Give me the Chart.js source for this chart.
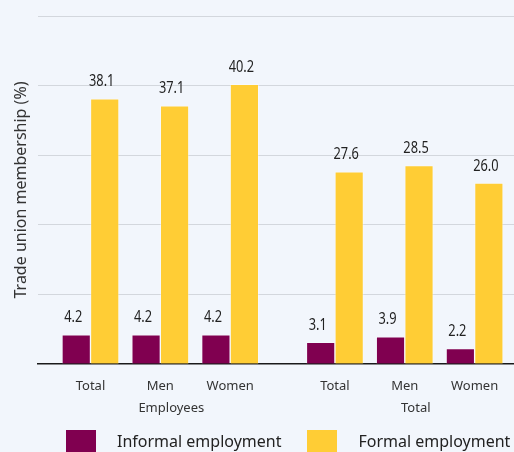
<!DOCTYPE html>
<html>
<head>
<meta charset="utf-8">
<script src="https://cdn.jsdelivr.net/npm/chart.js@4.4.0/dist/chart.umd.min.js"></script>
<style>
  html, body { margin: 0; padding: 0; background: #f2f6fc; overflow: hidden; width: 514px; height: 452px; }
  #wrap { position: relative; width: 527px; height: 452px; }
  #c { position: absolute; left: 0; top: 0; }
  .legend { position: absolute; left: 66px; top: 430px; display: flex; align-items: flex-start;
            font: 16px "Noto Sans", sans-serif; color: #222; white-space: nowrap; }
  .legend .item { display: flex; align-items: flex-start; margin-right: 26px; }
  .legend .sw { width: 30px; height: 30px; margin-right: 21px; }
  .legend .txt { line-height: 20px; padding-top: 1px; }
</style>
</head>
<body>
<div id="wrap">
  <canvas id="c" width="527" height="440"></canvas>
  <div class="legend" id="legend"></div>
</div>
<script>
// Trade union membership by employment type, sex and group
const categories = ['Total', 'Men', 'Women'];
const groups = ['Employees', 'Total'];
const informal = [4.2, 4.2, 4.2, 3.1, 3.9, 2.2];
const formal = [38.1, 37.1, 40.2, 27.6, 28.5, 26.0];
const yTicks = [0, 10, 20, 30, 40, 50];
const seriesNames = ['Informal employment', 'Formal employment'];
const seriesColors = ['#800050', '#ffcd35'];
const axisTitle = 'Trade union membership (%)';

// Each group: one spacer slot, then one bar slot + one spacer slot per category.
const slotsPerGroup = 1 + 2 * categories.length;
const slotCount = slotsPerGroup * groups.length;
const slotOf = (g, c) => g * slotsPerGroup + 1 + 2 * c;

const tickLabels = new Array(slotCount).fill('');
const toSlots = values => {
  const out = new Array(slotCount).fill(null);
  groups.forEach((g, gi) => categories.forEach((c, ci) => {
    out[slotOf(gi, ci)] = values[gi * categories.length + ci];
  }));
  return out;
};
groups.forEach((g, gi) => {
  categories.forEach((c, ci) => { tickLabels[slotOf(gi, ci)] = c; });
});

const seriesValues = [informal, formal];
const datasets = seriesNames.map((name, i) => ({
  label: name,
  data: toSlots(seriesValues[i]),
  backgroundColor: seriesColors[i],
  borderColor: 'rgba(255,255,255,0.3)',
  borderWidth: 1,
  barThickness: 28.5
}));

// Value labels above each bar, in a slightly condensed face
const valueLabels = {
  id: 'valueLabels',
  afterDatasetsDraw(chart) {
    const ctx = chart.ctx;
    ctx.save();
    ctx.font = '16px "Noto Sans"';
    ctx.fillStyle = '#222';
    ctx.textAlign = 'center';
    ctx.textBaseline = 'alphabetic';
    chart.data.datasets.forEach((ds, di) => {
      chart.getDatasetMeta(di).data.forEach((el, j) => {
        const v = ds.data[j];
        if (v === null || v === undefined) return;
        ctx.save();
        ctx.translate(el.x - 3, el.y - 12.5);
        ctx.scale(0.8, 1);
        ctx.fillText(v.toFixed(1), 0, 0);
        ctx.restore();
      });
    });
    ctx.restore();
  }
};

// Group names on a second row under the category labels
const groupRow = {
  id: 'groupRow',
  afterDraw(chart) {
    const ctx = chart.ctx;
    const xs = chart.scales.x;
    const mid = Math.floor(categories.length / 2);
    ctx.save();
    ctx.font = '13px "Noto Sans"';
    ctx.fillStyle = '#333';
    ctx.textAlign = 'center';
    ctx.textBaseline = 'middle';
    groups.forEach((g, gi) => {
      const px = xs.getPixelForValue(slotOf(gi, mid));
      ctx.fillText(g, px + 11, xs.bottom + 0.5);
    });
    ctx.restore();
  }
};

const tickFont = { family: 'Noto Sans', size: 13 };

new Chart(document.getElementById('c'), {
  type: 'bar',
  data: { labels: tickLabels, datasets },
  options: {
    responsive: false,
    animation: false,
    events: [],
    layout: { padding: { top: 16, left: 7.4, right: 0, bottom: 32 } },
    plugins: { legend: { display: false }, tooltip: { enabled: false } },
    scales: {
      x: {
        type: 'category',
        offset: true,
        z: 1,
        grid: { display: false, drawTicks: false },
        border: { display: true, color: '#1a1a1a', width: 1.5 },
        ticks: { autoSkip: false, maxRotation: 0, padding: 14.2, color: '#333', font: tickFont }
      },
      y: {
        min: yTicks[0],
        max: yTicks[yTicks.length - 1],
        ticks: { display: false, stepSize: yTicks[1] - yTicks[0] },
        grid: {
          drawTicks: false,
          lineWidth: 1,
          color: c => (c.tick && c.tick.value === 0) ? 'rgba(0,0,0,0)' : '#d3d7dd'
        },
        border: { display: false },
        title: {
          display: true,
          text: axisTitle,
          color: '#333',
          font: { family: 'Noto Sans', size: 16 },
          padding: { top: 4, bottom: 7.5 }
        }
      }
    }
  },
  plugins: [valueLabels, groupRow]
});

// Legend row built from the series names and colours
const legend = document.getElementById('legend');
seriesNames.forEach((name, i) => {
  const item = document.createElement('div');
  item.className = 'item';
  const sw = document.createElement('div');
  sw.className = 'sw';
  sw.style.background = seriesColors[i];
  const txt = document.createElement('span');
  txt.className = 'txt';
  txt.textContent = name;
  item.appendChild(sw);
  item.appendChild(txt);
  legend.appendChild(item);
});
</script>
</body>
</html>
